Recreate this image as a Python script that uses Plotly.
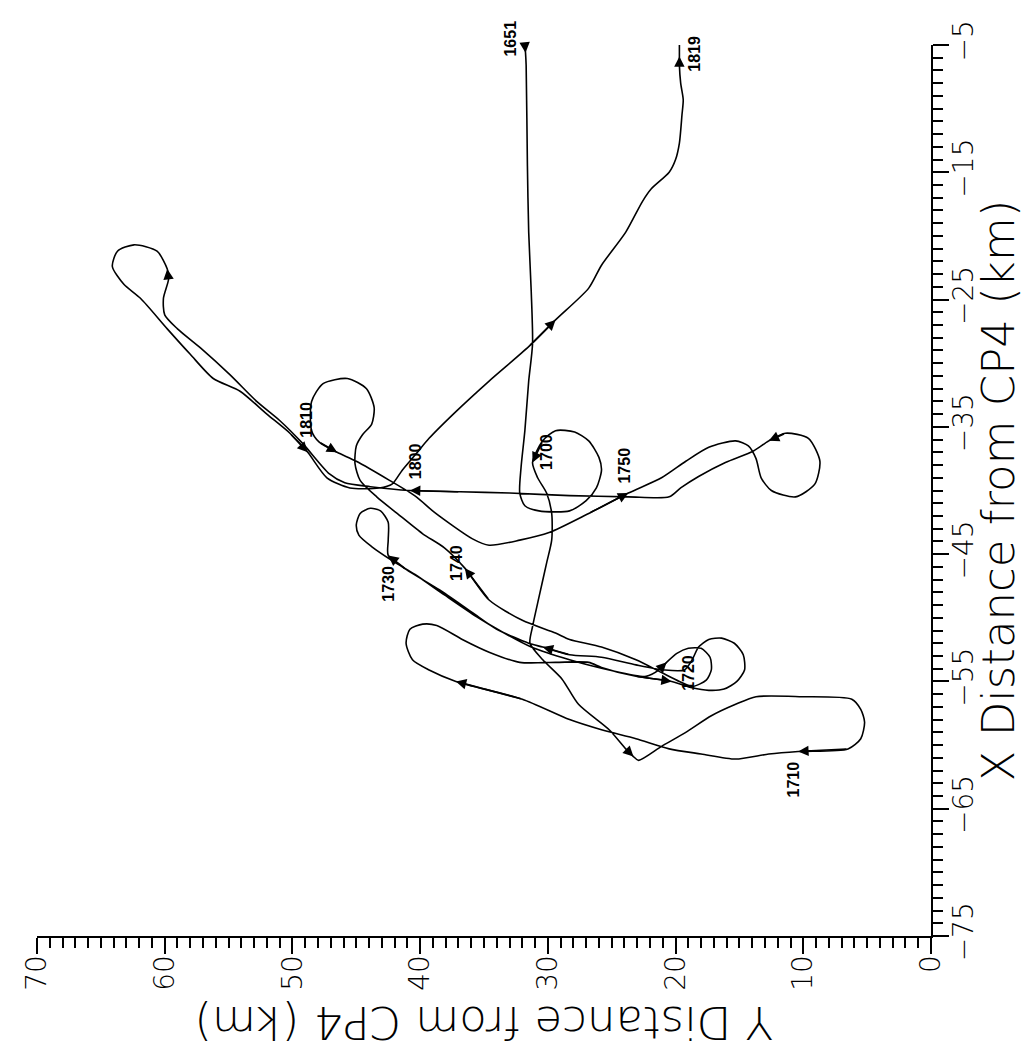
import plotly.graph_objects as go

# ---- Track data: (X distance km, Y distance km), split by time legs ----
leg_1651 = [(-5.0, 31.8), (-5.6, 31.75), (-6.6, 31.7), (-14.5, 31.6), (-19.7, 31.5), (-24.4, 31.3),
            (-28.5, 31.2), (-31.4, 31.5), (-35.3, 31.8), (-38.2, 32.1), (-40.2, 32.2), (-41.2, 31.8),
            (-41.6, 30.7), (-41.6, 28.3), (-40.8, 27.0), (-39.8, 26.2), (-38.4, 25.8), (-37.4, 26.0),
            (-36.1, 26.8), (-35.4, 27.9), (-35.3, 29.4), (-36.1, 30.4), (-37.8, 31.2)]
leg_1700 = [(-37.8, 31.2), (-39.0, 30.8), (-40.2, 30.1), (-41.8, 29.7), (-43.9, 29.7), (-45.7, 30.1),
            (-48.4, 30.7), (-50.7, 31.2), (-52.0, 31.4), (-53.3, 30.4), (-54.8, 28.9), (-56.8, 27.6),
            (-58.8, 25.2), (-60.3, 23.9), (-60.9, 23.3), (-61.2, 22.9), (-60.1, 21.1), (-59.0, 19.2),
            (-57.7, 17.2), (-56.8, 15.3), (-56.2, 13.7), (-56.2, 10.1), (-56.4, 6.2), (-57.2, 5.5),
            (-58.2, 5.2), (-59.5, 5.5), (-60.3, 6.5), (-60.5, 10.4)]
leg_1710 = [(-60.5, 10.4), (-60.7, 12.7), (-61.1, 15.3), (-60.7, 18.0), (-60.3, 20.5), (-59.5, 23.1),
            (-58.8, 25.8), (-58.0, 28.3), (-56.4, 32.0), (-55.0, 37.2), (-54.1, 39.3), (-53.3, 40.6),
            (-52.0, 41.1), (-50.9, 40.8), (-50.5, 39.8), (-50.6, 38.7), (-51.7, 36.7), (-52.7, 34.6),
            (-53.5, 32.2), (-53.5, 29.4), (-53.5, 26.8), (-53.9, 25.8), (-54.6, 23.1), (-55.0, 20.3)]
leg_1720 = [(-55.0, 20.3), (-55.5, 18.7), (-55.7, 17.4), (-55.6, 16.2), (-55.0, 15.2), (-54.1, 14.6),
            (-52.9, 14.7), (-52.0, 15.4), (-51.6, 16.4), (-51.7, 17.4), (-52.3, 18.2), (-53.3, 18.7),
            (-54.1, 19.3), (-54.1, 20.9), (-53.7, 23.1), (-53.1, 25.8), (-52.9, 28.3), (-52.3, 30.4),
            (-52.0, 31.5), (-50.9, 34.0), (-49.6, 35.9), (-47.8, 38.5), (-46.2, 41.1), (-45.1, 42.5)]
leg_1730 = [(-45.1, 42.5), (-43.9, 42.5), (-42.5, 42.5), (-41.6, 43.1), (-41.4, 43.9), (-41.8, 44.7),
            (-42.7, 45.0), (-43.5, 44.8), (-44.4, 43.8), (-45.5, 42.2), (-46.6, 40.4), (-48.2, 38.1),
            (-49.9, 35.6), (-51.1, 33.6), (-52.3, 31.3), (-53.3, 28.3), (-54.1, 25.2), (-54.6, 22.3),
            (-54.1, 21.3), (-53.5, 20.7), (-52.8, 19.9), (-52.4, 19.0), (-52.4, 18.0), (-53.1, 17.3),
            (-54.1, 17.2), (-54.9, 17.6), (-55.4, 18.7), (-55.0, 19.7), (-54.3, 21.1), (-53.3, 23.1),
            (-52.3, 25.8), (-51.7, 28.3), (-51.2, 29.4), (-50.2, 32.0), (-48.6, 34.6), (-46.1, 36.5)]
leg_1740 = [(-46.1, 36.5), (-44.5, 38.1), (-43.4, 39.8), (-41.8, 41.8), (-40.5, 43.4), (-39.2, 44.7),
            (-37.9, 45.1), (-36.5, 45.0), (-35.6, 44.5), (-34.8, 43.8), (-33.5, 43.6), (-32.0, 44.2),
            (-31.2, 45.7), (-31.6, 47.6), (-33.0, 48.5), (-35.3, 48.5), (-36.2, 47.9), (-37.0, 46.5),
            (-37.7, 45.0), (-39.2, 42.4), (-40.5, 40.3), (-41.7, 38.9), (-43.8, 35.9), (-44.3, 34.6),
            (-43.9, 32.2), (-43.3, 29.9), (-41.8, 26.8), (-40.2, 23.7)]
leg_1750 = [(-40.2, 23.7), (-39.0, 21.1), (-37.7, 19.2), (-36.6, 17.4), (-36.1, 15.3), (-36.5, 14.3),
            (-37.5, 13.7), (-39.0, 13.3), (-40.0, 12.5), (-40.5, 10.6), (-39.5, 9.1), (-37.7, 8.7),
            (-35.9, 9.6), (-35.5, 11.4), (-36.1, 12.7), (-36.9, 13.9), (-37.8, 16.1), (-38.9, 18.2),
            (-39.8, 19.6), (-40.5, 20.5), (-40.5, 23.7), (-40.4, 28.3), (-40.2, 33.0), (-40.1, 36.9),
            (-40.0, 40.8)]
leg_1800 = [(-40.0, 40.8), (-39.7, 43.9), (-39.4, 45.9), (-38.7, 47.1), (-36.3, 49.2), (-34.5, 51.0),
            (-33.0, 52.8), (-30.9, 54.9), (-28.8, 57.2), (-27.3, 59.0), (-26.2, 60.0), (-24.9, 60.1),
            (-23.4, 59.7), (-22.6, 59.8), (-21.2, 60.6), (-20.7, 62.4), (-21.2, 63.7), (-22.4, 64.1),
            (-23.8, 63.2), (-24.9, 61.9), (-27.3, 59.8), (-29.3, 58.0), (-31.2, 56.2), (-32.2, 54.1),
            (-34.0, 52.0), (-35.5, 50.2), (-37.0, 48.8)]
leg_1810 = [(-37.0, 48.8), (-39.0, 47.3), (-39.8, 45.5), (-39.8, 43.2), (-39.5, 42.2), (-38.4, 41.4),
            (-37.1, 40.3), (-35.9, 39.3), (-33.8, 37.2), (-31.4, 34.6), (-28.7, 31.5), (-26.6, 29.4),
            (-24.1, 26.8), (-22.3, 25.8), (-19.7, 23.9), (-17.3, 22.6), (-16.3, 21.9), (-15.0, 20.5),
            (-14.0, 20.0), (-12.7, 19.7), (-10.5, 19.5), (-9.3, 19.4), (-8.0, 19.6), (-6.6, 19.7),
            (-5.9, 19.7), (-4.8, 19.7)]

legs = [leg_1651, leg_1700, leg_1710, leg_1720, leg_1730, leg_1740, leg_1750, leg_1800, leg_1810]
# indices (within each leg) of points carrying a direction arrowhead
extra_arrows = [[1], [14], [9], [17], [19], [17], [14], [13], [11, 24]]

# time labels
time_labels = ["1651", "1700", "1710", "1720", "1730", "1740", "1750", "1800", "1810", "1819"]
label_x_km = [-5.0, -37.0, -62.7, -54.3, -47.3, -45.7, -38.0, -37.7, -34.4, -5.7]
label_y_km = [33.0, 30.1, 10.8, 19.0, 42.5, 37.2, 24.0, 40.4, 48.9, 18.5]
label_shift = [6, 0, 0, 0, 0, 0, 0, 0, 0, 0]

# axis ticks
y_ticks = [0, 10, 20, 30, 40, 50, 60, 70]
x_ticks = [-75, -65, -55, -45, -35, -25, -15, -5]

fig = go.Figure()

path_x, path_y = [], []
for k, leg in enumerate(legs):
    pts = leg if k == 0 else leg[1:]
    for xk, yk in pts:
        path_x.append(xk)
        path_y.append(yk)

fig.add_trace(go.Scatter(x=path_y, y=path_x, mode="lines",
                         line=dict(color="black", width=1.6, shape="spline", smoothing=0.7),
                         hoverinfo="skip", cliponaxis=False))

# arrowheads
for k, leg in enumerate(legs):
    idxs = list(extra_arrows[k])
    if k < len(legs) - 1:
        idxs.append(len(leg) - 1)
    for i in idxs:
        tip = leg[i]
        tail = leg[i - 1]
        fig.add_annotation(x=tip[1], y=tip[0], ax=tail[1], ay=tail[0],
                           xref="x", yref="y", axref="x", ayref="y",
                           text="", showarrow=True, arrowhead=2, arrowsize=1.3,
                           arrowwidth=1.6, arrowcolor="black", standoff=0)

# time labels (rotated)
for t, xk, yk, sh in zip(time_labels, label_x_km, label_y_km, label_shift):
    fig.add_annotation(x=yk, y=xk, xref="x", yref="y", text="<b>%s</b>" % t,
                       showarrow=False, textangle=-90, yshift=sh,
                       font=dict(family="Liberation Sans, Arial", size=16, color="black"),
                       xanchor="center", yanchor="middle")

title_font = dict(family="DejaVu Sans", size=45, color="black", weight=300)
fig.add_annotation(x=0.5, y=-0.097, xref="paper", yref="paper",
                   text="Y Distance from CP4 (km)", showarrow=False, textangle=180,
                   font=title_font, xanchor="center", yanchor="middle")
fig.add_annotation(x=1.076, y=0.5, xref="paper", yref="paper",
                   text="X Distance from CP4 (km)", showarrow=False, textangle=-90,
                   font=title_font, xanchor="center", yanchor="middle")

tick_font = dict(family="DejaVu Sans", size=28, color="black", weight=300)
common = dict(ticks="outside", ticklen=16, tickwidth=2, tickcolor="black",
              showline=True, linecolor="black", linewidth=2, showgrid=False,
              zeroline=False, tickfont=tick_font, tickangle=-90,
              ticklabelstandoff=-10)

fig.update_xaxes(range=[70, 0], tickmode="array", tickvals=y_ticks,
                 ticktext=[str(v) for v in y_ticks],
                 minor=dict(tickmode="linear", tick0=0, dtick=1, ticks="outside",
                            ticklen=10, tickwidth=1.5, tickcolor="black", showgrid=False),
                 **common)
fig.update_yaxes(range=[-75, -5], side="right", tickmode="array", tickvals=x_ticks,
                 ticktext=[("\u2212%d" % abs(v)) for v in x_ticks],
                 minor=dict(tickmode="linear", tick0=-75, dtick=1, ticks="outside",
                            ticklen=10, tickwidth=1.5, tickcolor="black", showgrid=False),
                 **common)

fig.update_layout(width=1031, height=1051,
                  margin=dict(l=26, r=108, t=32, b=123),
                  plot_bgcolor="white", paper_bgcolor="white",
                  showlegend=False)

fig.write_html("out.html")
